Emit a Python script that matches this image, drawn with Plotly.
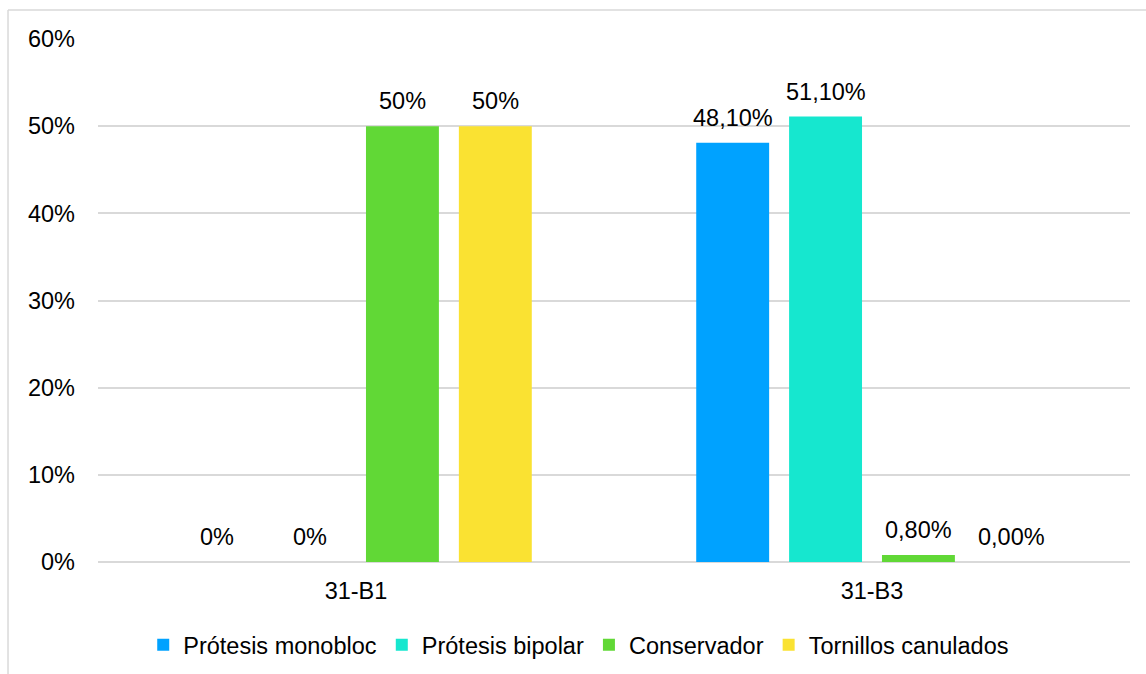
import plotly.graph_objects as go

categories = ["31-B1", "31-B3"]
series_names = ["Prótesis monobloc", "Prótesis bipolar", "Conservador", "Tornillos canulados"]
series_values = [
    [0.0, 0.481],
    [0.0, 0.511],
    [0.50, 0.008],
    [0.50, 0.0],
]
series_labels = [
    ["0%", "48,10%"],
    ["0%", "51,10%"],
    ["50%", "0,80%"],
    ["50%", "0,00%"],
]
series_colors = ["#00A2FF", "#16E7CF", "#61D836", "#FAE232"]
y_ticks = [0, 0.1, 0.2, 0.3, 0.4, 0.5, 0.6]
y_tick_labels = ["0%", "10%", "20%", "30%", "40%", "50%", "60%"]

FONT = "Helvetica, 'Liberation Sans', Arial, sans-serif"
FSIZE = 23.5
GRID = "#d9d9d9"

W, H = 1146, 674
ML, MR, MT, MB = 98, 16, 39, 112
BARGAP, GROUPGAP = 0.28, 0.215

fig = go.Figure()
for name, vals, color in zip(series_names, series_values, series_colors):
    fig.add_trace(go.Bar(
        name=name,
        x=categories,
        y=vals,
        marker=dict(color=color, line=dict(width=0)),
    ))

# value labels above each bar, shifted to the bar's slot within its group
plot_w = W - ML - MR
slot = plot_w / len(categories) * (1 - BARGAP) / len(series_names)
annotations = []
for i, (vals, labels) in enumerate(zip(series_values, series_labels)):
    dx = (i - (len(series_names) - 1) / 2) * slot
    for cat, v, lab in zip(categories, vals, labels):
        annotations.append(dict(
            x=cat, y=v, xref="x", yref="y",
            text=lab, showarrow=False,
            xshift=dx, yshift=25,
            xanchor="center", yanchor="middle",
            font=dict(family=FONT, size=FSIZE, color="#000000"),
        ))

# outer frame lines (left and top edge of the chart box)
frame = [
    dict(type="line", xref="paper", yref="paper", x0=-0.0872, x1=-0.0872, y0=-0.22, y1=1.0554),
    dict(type="line", xref="paper", yref="paper", x0=-0.0872, x1=1.02, y0=1.0554, y1=1.0554),
]
for s in frame:
    s["line"] = dict(color=GRID, width=1.5)
    s["layer"] = "below"

fig.update_layout(
    width=W,
    height=H,
    margin=dict(l=ML, r=MR, t=MT, b=MB),
    paper_bgcolor="white",
    plot_bgcolor="white",
    barmode="group",
    bargap=BARGAP,
    bargroupgap=GROUPGAP,
    font=dict(family=FONT, size=FSIZE, color="#000000"),
    shapes=frame,
    annotations=annotations,
    xaxis=dict(
        showgrid=False,
        showline=False,
        ticks="",
        ticklabelstandoff=12,
        tickfont=dict(family=FONT, size=FSIZE, color="#000000"),
    ),
    yaxis=dict(
        range=[0, 0.6],
        tickvals=y_ticks,
        ticktext=y_tick_labels,
        showgrid=True,
        gridcolor=GRID,
        gridwidth=1.5,
        zeroline=True,
        zerolinecolor=GRID,
        zerolinewidth=1.5,
        showline=False,
        ticks="",
        ticklabelstandoff=22,
        tickfont=dict(family=FONT, size=FSIZE, color="#000000"),
    ),
    legend=dict(
        orientation="h",
        xref="container",
        yref="container",
        x=0.505,
        xanchor="center",
        y=0.043,
        yanchor="middle",
        font=dict(family=FONT, size=FSIZE, color="#000000"),
        itemwidth=30,
        traceorder="normal",
    ),
    showlegend=True,
)

fig.write_html("out.html")
